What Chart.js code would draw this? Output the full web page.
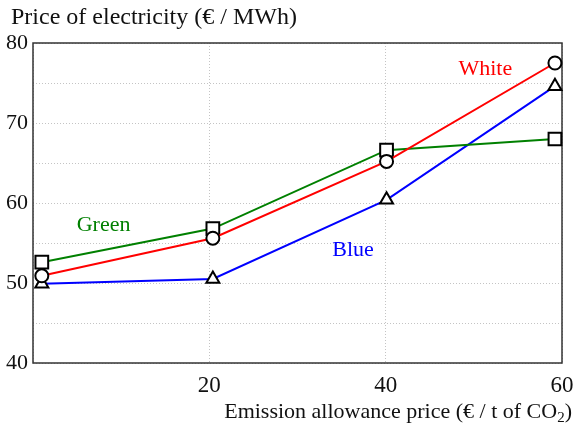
<!DOCTYPE html>
<html>
<head>
<meta charset="utf-8">
<script src="https://cdn.jsdelivr.net/npm/chart.js@4/dist/chart.umd.min.js"></script>
<style>
  html, body { margin: 0; padding: 0; background: #fff; }
  #wrap { width: 573px; height: 425px; }
</style>
</head>
<body>
<div id="wrap"><canvas id="c" width="573" height="425"></canvas></div>
<script>
// Emission allowance price (€ / t CO2) at which each scenario was evaluated
const allowancePrices = [1, 20.4, 40.1, 59.2];
// Electricity price (€ / MWh) per scenario
const greenPrices = [52.6, 56.8, 66.6, 68.0];
const whitePrices = [50.9, 55.6, 65.2, 77.5];
const bluePrices  = [49.9, 50.5, 60.4, 74.6];
const seriesNames = ['Green', 'White', 'Blue'];
const xTickLabels = [20, 40, 60];
const yTickLabels = [40, 50, 60, 70, 80];

const SERIF = '"Liberation Serif", "Times New Roman", serif';

function pts(ys) {
  return allowancePrices.map((x, i) => ({ x: x, y: ys[i] }));
}

function series(label, color, ys, style, radius, order) {
  return {
    label: label,
    data: pts(ys),
    borderColor: color,
    borderWidth: 2,
    pointStyle: style,
    pointRadius: radius,
    pointBorderColor: '#000',
    pointBackgroundColor: '#fff',
    pointBorderWidth: 2,
    fill: false,
    tension: 0,
    clip: false,
    order: order
  };
}

// Series names written next to their curves, anchored in data units
const seriesLabels = [
  { text: seriesNames[0], x: 8.0,  y: 56.5, color: '#008000' },
  { text: seriesNames[1], x: 51.3, y: 76.0, color: '#ff0000' },
  { text: seriesNames[2], x: 36.3, y: 53.4, color: '#0000ff' }
];

const framePlugin = {
  id: 'frame',
  beforeDatasetsDraw(chart) {
    const a = chart.chartArea, ctx = chart.ctx;
    ctx.save();
    ctx.strokeStyle = '#333';
    ctx.lineWidth = 1.5;
    ctx.strokeRect(a.left, a.top, a.right - a.left, a.bottom - a.top);
    ctx.restore();
  },
  afterDraw(chart) {
    const ctx = chart.ctx, xs = chart.scales.x, ys = chart.scales.y;
    ctx.save();
    ctx.textBaseline = 'alphabetic';
    ctx.font = '22px ' + SERIF;
    ctx.textAlign = 'center';
    seriesLabels.forEach(l => {
      ctx.fillStyle = l.color;
      ctx.fillText(l.text, xs.getPixelForValue(l.x), ys.getPixelForValue(l.y));
    });

    // axis titles
    ctx.fillStyle = '#111';
    ctx.textAlign = 'left';
    ctx.font = '24px ' + SERIF;
    ctx.fillText('Price of electricity (€ / MWh)', 11, 24);

    const main = 'Emission allowance price (€ / t of CO';
    const sub = '2';
    const tail = ')';
    ctx.font = '22px ' + SERIF;
    const wMain = ctx.measureText(main).width;
    const wTail = ctx.measureText(tail).width;
    ctx.font = '15px ' + SERIF;
    const wSub = ctx.measureText(sub).width;
    const right = 572;
    const x0 = right - wMain - wSub - wTail;
    const base = 418;
    ctx.font = '22px ' + SERIF;
    ctx.fillText(main, x0, base);
    ctx.font = '15px ' + SERIF;
    ctx.fillText(sub, x0 + wMain, base + 4);
    ctx.font = '22px ' + SERIF;
    ctx.fillText(tail, x0 + wMain + wSub, base);
    ctx.restore();
  }
};

new Chart(document.getElementById('c'), {
  type: 'line',
  data: {
    datasets: [
      series(seriesNames[0], '#008000', greenPrices, 'rect', 9, 1),
      series(seriesNames[1], '#ff0000', whitePrices, 'circle', 6.5, 0),
      series(seriesNames[2], '#0000ff', bluePrices, 'triangle', 7.5, 2)
    ]
  },
  options: {
    responsive: false,
    animation: false,
    devicePixelRatio: 1,
    layout: { padding: { top: 43, right: 10, left: 0, bottom: 0 } },
    plugins: { legend: { display: false }, tooltip: { enabled: false } },
    scales: {
      x: {
        type: 'linear',
        min: 0,
        max: 60,
        afterFit(s) { s.height = 62; s.paddingLeft = 0; s.paddingRight = 0; },
        afterBuildTicks(s) {
          s.ticks = [0].concat(xTickLabels).map(v => ({ value: v }));
        },
        grid: { color: '#c4c4c4', lineWidth: 1, drawTicks: false },
        border: { display: false, dash: [1, 2] },
        ticks: {
          padding: 9,
          color: '#111',
          font: { family: SERIF, size: 23 },
          maxRotation: 0,
          callback: v => (xTickLabels.includes(v) ? String(v) : '')
        }
      },
      y: {
        type: 'linear',
        min: 40,
        max: 80,
        afterFit(s) { s.width = 33; s.paddingTop = 0; s.paddingBottom = 0; },
        afterBuildTicks(s) {
          const t = [];
          for (let v = 40; v <= 80; v += 5) t.push({ value: v });
          s.ticks = t;
        },
        grid: { color: '#c4c4c4', lineWidth: 1, drawTicks: false },
        border: { display: false, dash: [1, 2] },
        ticks: {
          padding: 5,
          color: '#111',
          font: { family: SERIF, size: 22 },
          callback: v => (yTickLabels.includes(v) ? String(v) : '')
        }
      }
    }
  },
  plugins: [framePlugin]
});
</script>
</body>
</html>
